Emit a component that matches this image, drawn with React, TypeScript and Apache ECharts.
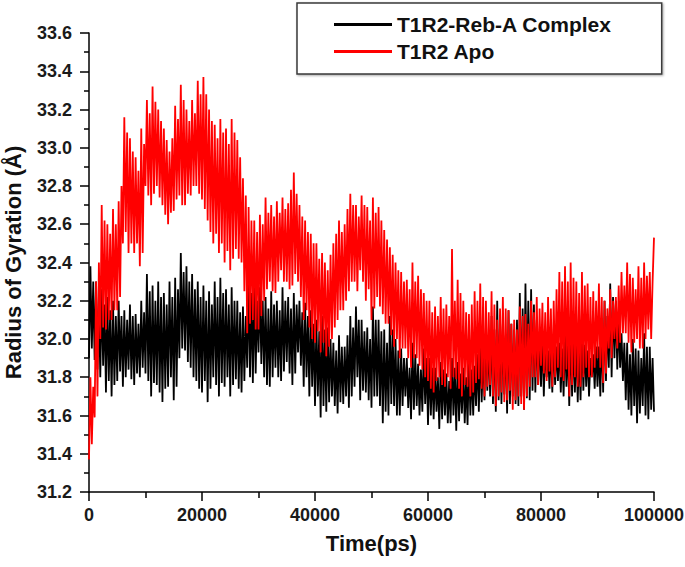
import React, { useEffect, useRef } from "react";
import * as echarts from "echarts";

const sampleStepPs = 250;

const seriesNames = ["T1R2-Reb-A Complex", "T1R2 Apo"];

const complexRg = [
  31.9, 32.38, 31.95, 32.3, 31.89, 32.3, 31.84, 32.22, 31.8, 32.26, 31.86, 32.18, 31.72, 32.22, 31.78, 32.15, 31.7, 32.2, 31.76, 32.12,
  31.78, 32.2, 31.83, 32.12, 31.75, 32.15, 31.8, 32.1, 31.84, 32.18, 31.79, 32.12, 31.76, 32.13, 31.82, 32.08, 31.8, 32.2, 31.85, 32.14,
  31.82, 32.34, 31.78, 32.25, 31.7, 32.28, 31.77, 32.2, 31.76, 32.3, 31.72, 32.22, 31.67, 32.24, 31.74, 32.18, 31.75, 32.3, 31.8, 32.22,
  31.68, 32.32, 31.75, 32.26, 31.9, 32.45, 31.95, 32.35, 31.94, 32.38, 31.88, 32.3, 31.85, 32.34, 31.8, 32.26, 31.78, 32.3, 31.74, 32.22,
  31.72, 32.28, 31.78, 32.2, 31.67, 32.25, 31.74, 32.18, 31.8, 32.3, 31.76, 32.22, 31.7, 32.32, 31.77, 32.24, 31.75, 32.26, 31.8, 32.18,
  31.7, 32.27, 31.76, 32.2, 31.79, 32.2, 31.74, 32.14, 31.72, 32.17, 31.78, 32.12, 31.85, 32.31, 31.8, 32.24, 31.77, 32.28, 31.82, 32.2,
  31.93, 32.27, 31.87, 32.2, 31.8, 32.22, 31.76, 32.16, 31.75, 32.25, 31.8, 32.18, 31.85, 32.2, 31.8, 32.15, 31.78, 32.27, 31.83, 32.2,
  31.88, 32.22, 31.82, 32.16, 31.76, 32.24, 31.82, 32.18, 31.93, 32.2, 31.86, 32.14, 31.75, 32.19, 31.8, 32.12, 31.7, 32.15, 31.75, 32.08,
  31.65, 32.1, 31.7, 32.04, 31.59, 32.12, 31.65, 32.05, 31.62, 32.06, 31.67, 32.0, 31.7, 31.98, 31.65, 31.94, 31.61, 32.02, 31.67, 31.96,
  31.66, 31.96, 31.7, 32.02, 31.64, 32.12, 31.7, 32.06, 31.75, 32.17, 31.8, 32.1, 31.68, 32.1, 31.73, 32.04, 31.72, 32.06, 31.68, 32.0,
  31.64, 32.17, 31.7, 32.1, 31.7, 32.1, 31.65, 32.04, 31.56, 32.05, 31.62, 31.98, 31.6, 32.12, 31.66, 32.05, 31.65, 32.0, 31.6, 31.94,
  31.6, 31.95, 31.65, 31.9, 31.7, 31.9, 31.64, 31.85, 31.58, 31.98, 31.63, 31.92, 31.65, 31.87, 31.6, 31.84, 31.62, 31.95, 31.66, 31.9,
  31.55, 31.9, 31.6, 31.85, 31.58, 31.85, 31.62, 31.8, 31.53, 31.88, 31.58, 31.84, 31.6, 31.82, 31.56, 31.78, 31.56, 31.9, 31.6, 31.85,
  31.52, 31.88, 31.57, 31.82, 31.61, 31.85, 31.56, 31.8, 31.55, 31.9, 31.6, 31.84, 31.6, 31.86, 31.65, 31.92, 31.62, 32.0, 31.67, 31.94,
  31.68, 32.05, 31.73, 32.0, 31.7, 32.12, 31.66, 32.05, 31.62, 32.2, 31.68, 32.1, 31.66, 32.08, 31.71, 32.02, 31.61, 32.15, 31.66, 32.08,
  31.7, 32.05, 31.66, 32.1, 31.65, 32.24, 31.7, 32.16, 31.63, 32.29, 31.69, 32.2, 31.68, 32.26, 31.73, 32.18, 31.72, 32.1, 31.76, 32.04,
  31.75, 32.03, 31.7, 31.98, 31.8, 31.94, 31.74, 31.98, 31.72, 32.0, 31.76, 31.96, 31.78, 31.98, 31.72, 31.95, 31.7, 32.03, 31.75, 31.98,
  31.65, 32.06, 31.7, 32.0, 31.72, 32.0, 31.67, 31.96, 31.68, 32.03, 31.73, 31.97, 31.75, 31.94, 31.7, 31.9, 31.8, 31.92, 31.74, 31.96,
  31.75, 31.96, 31.7, 32.05, 31.72, 32.2, 31.78, 32.12, 31.85, 32.29, 31.8, 32.22, 31.9, 32.2, 31.84, 32.12, 31.85, 32.03, 31.78, 31.98,
  31.68, 31.98, 31.63, 31.92, 31.6, 32.0, 31.65, 31.95, 31.56, 31.94, 31.61, 31.9, 31.65, 32.03, 31.6, 31.96, 31.58, 31.96, 31.63, 31.9,
  31.62,
];

const apoRg = [
  31.37, 31.8, 31.45, 31.75, 31.59, 32.3, 31.7, 32.4, 32.0, 32.7, 32.06, 32.62, 32.05, 32.6, 32.1, 32.55, 32.1, 32.68, 32.15, 32.6,
  32.15, 32.72, 32.22, 32.8, 32.5, 33.16, 32.56, 33.08, 32.45, 33.05, 32.5, 32.98, 32.45, 32.95, 32.5, 32.88, 32.38, 33.1, 32.45, 33.02,
  32.8, 33.25, 32.75, 33.18, 32.7, 33.32, 32.76, 33.24, 32.8, 33.2, 32.74, 33.14, 32.7, 33.1, 32.65, 33.04, 32.6, 32.98, 32.66, 33.05,
  32.67, 33.22, 32.73, 33.15, 32.75, 33.33, 32.7, 33.25, 32.7, 33.2, 32.76, 33.14, 32.75, 33.25, 32.8, 33.18, 32.8, 33.35, 32.76, 33.28,
  32.73, 33.37, 32.68, 33.28, 32.62, 33.2, 32.56, 33.14, 32.5, 33.12, 32.55, 33.05, 32.45, 33.15, 32.5, 33.08, 32.4, 33.1, 32.46, 33.02,
  32.36, 33.15, 32.42, 33.08, 32.47, 33.04, 32.42, 32.95, 32.4, 32.84, 32.25, 32.75, 32.03, 32.69, 32.08, 32.62, 32.1, 32.62, 32.05, 32.56,
  32.05, 32.65, 32.12, 32.6, 32.2, 32.74, 32.26, 32.66, 32.3, 32.7, 32.25, 32.64, 32.24, 32.72, 32.3, 32.66, 32.36, 32.74, 32.3, 32.68,
  32.3, 32.71, 32.26, 32.78, 32.28, 32.87, 32.34, 32.76, 32.3, 32.7, 32.22, 32.64, 32.1, 32.62, 32.15, 32.56, 32.06, 32.55, 32.0, 32.5,
  31.98, 32.5, 32.04, 32.42, 31.93, 32.45, 31.98, 32.4, 31.91, 32.36, 31.96, 32.44, 32.0, 32.5, 32.06, 32.55, 32.1, 32.62, 32.15, 32.56,
  32.15, 32.6, 32.2, 32.68, 32.25, 32.76, 32.3, 32.7, 32.3, 32.7, 32.25, 32.64, 32.36, 32.75, 32.3, 32.7, 32.2, 32.69, 32.26, 32.62,
  32.1, 32.74, 32.16, 32.66, 32.22, 32.69, 32.17, 32.62, 32.13, 32.57, 32.08, 32.52, 32.08, 32.48, 32.02, 32.44, 31.96, 32.4, 32.0, 32.36,
  31.9, 32.35, 31.95, 32.3, 31.95, 32.31, 31.9, 32.26, 31.85, 32.4, 31.9, 32.3, 31.9, 32.33, 31.86, 32.26, 31.84, 32.24, 31.8, 32.2,
  31.78, 32.2, 31.74, 32.14, 31.72, 32.17, 31.78, 32.12, 31.8, 32.22, 31.76, 32.16, 31.75, 32.18, 31.8, 32.12, 31.74, 32.47, 31.8, 32.2,
  31.79, 32.31, 31.74, 32.24, 31.7, 32.2, 31.76, 32.14, 31.75, 32.13, 31.7, 32.18, 31.72, 32.25, 31.77, 32.2, 31.79, 32.29, 31.74, 32.22,
  31.7, 32.2, 31.75, 32.14, 31.76, 32.25, 31.7, 32.18, 31.65, 32.1, 31.7, 32.16, 31.72, 32.22, 31.67, 32.16, 31.68, 32.15, 31.73, 32.08,
  31.63, 32.1, 31.68, 32.05, 31.7, 32.17, 31.66, 32.12, 31.63, 32.13, 31.7, 32.08, 31.75, 32.2, 31.8, 32.14, 31.8, 32.22, 31.76, 32.16,
  31.86, 32.19, 31.82, 32.14, 31.78, 32.22, 31.83, 32.16, 31.75, 32.2, 31.8, 32.26, 31.85, 32.35, 31.8, 32.3, 31.78, 32.38, 31.84, 32.3,
  31.7, 32.4, 31.76, 32.32, 31.8, 32.3, 31.75, 32.24, 31.75, 32.35, 31.8, 32.28, 31.85, 32.29, 31.8, 32.22, 31.8, 32.25, 31.85, 32.2,
  31.9, 32.29, 31.85, 32.22, 31.77, 32.2, 31.82, 32.16, 31.95, 32.26, 31.9, 32.2, 32.0, 32.22, 31.95, 32.28, 31.98, 32.35, 32.03, 32.28,
  32.03, 32.4, 31.98, 32.34, 31.93, 32.32, 31.98, 32.26, 32.0, 32.38, 31.95, 32.32, 31.95, 32.4, 32.0, 32.33, 32.05, 32.35, 32.0, 32.3,
  32.53,
];

const xMin = 0;
const xMax = 100000;
const xInterval = 20000;
const yMin = 31.2;
const yMax = 33.6;
const yInterval = 0.2;

const FONT = "'Liberation Sans', Arial, sans-serif";

export default function App() {
  const ref = useRef<HTMLDivElement>(null);

  useEffect(() => {
    if (!ref.current) return;
    const chart = echarts.init(ref.current, null, { renderer: "svg" });
    const toPairs = (arr: number[]) => arr.map((v, i) => [i * sampleStepPs, v]);
    const axisText = { fontFamily: FONT, fontWeight: "bold" as const, fontSize: 18, color: "#1a1a1a" };
    chart.setOption({
      animation: false,
      backgroundColor: "#ffffff",
      grid: {
        left: 89,
        right: 31,
        top: 33,
        bottom: 75,
        containLabel: false,
        outerBoundsMode: "none",
      },
      legend: {
        data: seriesNames,
        orient: "vertical",
        left: 297,
        top: 3,
        width: 369,
        padding: [11, 50, 12, 37],
        itemWidth: 58,
        itemHeight: 3,
        itemGap: 6,
        icon: "rect",
        borderColor: "#3a3a3a",
        borderWidth: 1.5,
        backgroundColor: "#ffffff",
        shadowColor: "rgba(0,0,0,0.35)",
        shadowBlur: 2,
        shadowOffsetX: 1,
        shadowOffsetY: 1,
        textStyle: { fontFamily: FONT, fontWeight: "bold", fontSize: 21, color: "#111" },
      },
      xAxis: {
        type: "value",
        min: xMin,
        max: xMax,
        interval: xInterval,
        name: "Time(ps)",
        nameLocation: "middle",
        nameGap: 40,
        nameTextStyle: { fontFamily: FONT, fontWeight: "bold", fontSize: 22, color: "#111" },
        axisLine: { show: true, onZero: false, lineStyle: { color: "#000", width: 1.5 } },
        axisTick: { show: true, inside: false, length: 9, lineStyle: { color: "#000", width: 1.5 } },
        minorTick: { show: true, splitNumber: 2, length: 6, lineStyle: { color: "#000", width: 1.5 } },
        axisLabel: { ...axisText, margin: 14, formatter: (v: number) => String(Math.round(v)) },
        splitLine: { show: false },
      },
      yAxis: {
        type: "value",
        min: yMin,
        max: yMax,
        interval: yInterval,
        name: "Radius of Gyration (Å)",
        nameLocation: "middle",
        nameGap: 65,
        nameRotate: 90,
        nameTextStyle: { fontFamily: FONT, fontWeight: "bold", fontSize: 22, color: "#111" },
        axisLine: { show: true, onZero: false, lineStyle: { color: "#000", width: 1.5 } },
        axisTick: { show: true, inside: false, length: 9, lineStyle: { color: "#000", width: 1.5 } },
        minorTick: { show: true, splitNumber: 2, length: 5, lineStyle: { color: "#000", width: 1.5 } },
        axisLabel: { ...axisText, margin: 17, formatter: (v: number) => v.toFixed(1) },
        splitLine: { show: false },
      },
      series: [
        {
          name: seriesNames[0],
          type: "line",
          data: toPairs(complexRg),
          showSymbol: false,
          symbol: "none",
          lineStyle: { color: "#000000", width: 1.8 },
          itemStyle: { color: "#000000" },
          z: 2,
        },
        {
          name: seriesNames[1],
          type: "line",
          data: toPairs(apoRg),
          showSymbol: false,
          symbol: "none",
          lineStyle: { color: "#ff0000", width: 1.8 },
          itemStyle: { color: "#ff0000" },
          z: 3,
        },
      ],
    });
    return () => chart.dispose();
  }, []);

  return (
    <div
      ref={ref}
      style={{ position: "absolute", left: 0, top: 0, width: 685, height: 567, background: "#fff" }}
    />
  );
}
